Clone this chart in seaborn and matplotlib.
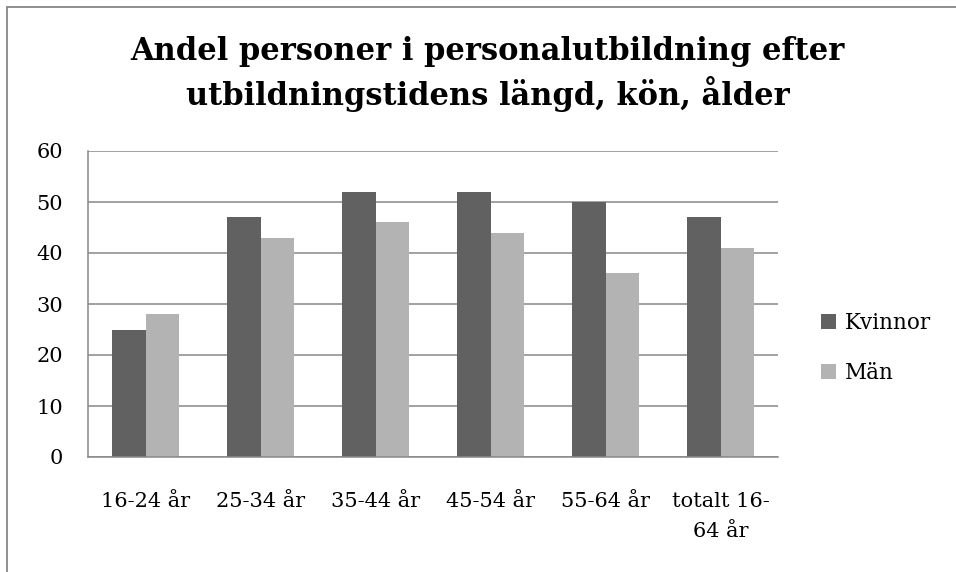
import numpy as np
import pandas as pd
import matplotlib.pyplot as plt
import matplotlib.patches as mpatches
import seaborn as sns

aldrar = ['16-24 år', '25-34 år', '35-44 år', '45-54 år', '55-64 år', 'totalt 16-\n64 år']
kvinnor = [25, 47, 52, 52, 50, 47]
man = [28, 43, 46, 44, 36, 41]
serier = ['Kvinnor', 'Män']
farger = ['#616161', '#b3b3b3']

df = pd.DataFrame({
    'alder': aldrar * 2,
    'andel': kvinnor + man,
    'kon': [serier[0]] * len(aldrar) + [serier[1]] * len(aldrar),
})

sns.set_style('white')
plt.rcParams['font.family'] = ['DejaVu Serif']
plt.rcParams['text.color'] = 'black'
plt.rcParams['xtick.color'] = 'black'
plt.rcParams['ytick.color'] = 'black'

fig = plt.figure(figsize=(9.56, 5.72), dpi=100)
ax = fig.add_axes([88/956, 1 - 457/572, 690/956, 306/572])

sns.barplot(ax=ax, data=df, x='alder', y='andel', hue='kon', palette=farger,
            width=0.574, saturation=1, gap=0, edgecolor='none', linewidth=0)

grid = '#878787'
ax.set_ylim(0, 60)
ax.set_yticks(np.arange(0, 61, 10))
ax.yaxis.grid(True, color=grid, linewidth=1.1)
ax.set_axisbelow(True)
ax.set_xlabel('')
ax.set_ylabel('')
for s in ['top', 'right']:
    ax.spines[s].set_visible(False)
for s in ['left', 'bottom']:
    ax.spines[s].set_color(grid)
    ax.spines[s].set_linewidth(1.1)
ax.tick_params(axis='y', length=0, pad=18, labelsize=15, labelcolor='black')
ax.tick_params(axis='x', length=0, pad=25, labelsize=15, labelcolor='black')
for t in ax.get_xticklabels():
    t.set_linespacing(1.75)

leg = ax.legend(loc='center left', bbox_to_anchor=(821/956, 1 - 348/572), bbox_transform=fig.transFigure,
                frameon=False, fontsize=15.5, handlelength=0.7, handleheight=0.7, handletextpad=0.4,
                labelspacing=1.3, borderpad=0, borderaxespad=0)
for t in leg.get_texts():
    t.set_color('black')

fig.text(0.51, 1 - 74/572, 'Andel personer i personalutbildning efter\nutbildningstidens längd, kön, ålder',
         ha='center', va='center', fontsize=22, fontweight='bold', linespacing=1.3, color='black')

fig.patches.append(mpatches.Rectangle((7/956, -0.1), 1.2, 1.1 - 7/572, transform=fig.transFigure,
                                      fill=False, edgecolor=grid, linewidth=1.3))

fig.savefig('out.png', dpi=100)
